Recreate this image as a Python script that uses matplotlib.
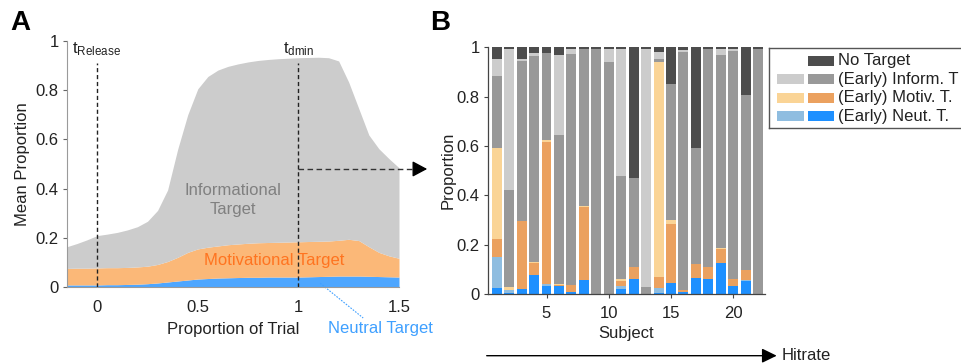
import matplotlib
matplotlib.use("Agg")
import matplotlib.pyplot as plt
from matplotlib.patches import Rectangle, FancyArrowPatch
import numpy as np

plt.rcParams['font.family'] = ['Liberation Sans', 'DejaVu Sans']
plt.rcParams['mathtext.fontset'] = 'custom'
plt.rcParams['mathtext.rm'] = 'Liberation Sans'
plt.rcParams['mathtext.default'] = 'regular'

# ---------------- Panel A: mean proportion over trial time ----------------
trial_pos = [-0.15, -0.10, -0.05, 0.00, 0.05, 0.10, 0.15, 0.20, 0.25, 0.30,
             0.35, 0.40, 0.45, 0.50, 0.55, 0.60, 0.65, 0.70, 0.75, 0.80,
             0.85, 0.90, 0.95, 1.00, 1.05, 1.10, 1.15, 1.20, 1.25, 1.30,
             1.35, 1.40, 1.45, 1.50]
# stacked upper edges (cumulative mean proportions)
cum_neutral = [0.010, 0.010, 0.010, 0.010, 0.011, 0.011, 0.012, 0.013, 0.015, 0.018,
               0.022, 0.026, 0.030, 0.034, 0.036, 0.038, 0.039, 0.040, 0.041, 0.041,
               0.042, 0.042, 0.042, 0.042, 0.043, 0.044, 0.045, 0.046, 0.046, 0.046,
               0.045, 0.044, 0.043, 0.042]
cum_motivational = [0.077, 0.078, 0.078, 0.079, 0.080, 0.080, 0.081, 0.083, 0.086, 0.093,
                    0.105, 0.122, 0.142, 0.156, 0.163, 0.168, 0.173, 0.176, 0.179, 0.181,
                    0.182, 0.183, 0.184, 0.185, 0.186, 0.187, 0.188, 0.191, 0.195, 0.190,
                    0.165, 0.142, 0.128, 0.118]
cum_informational = [0.165, 0.178, 0.193, 0.210, 0.216, 0.223, 0.233, 0.246, 0.268, 0.312,
                     0.395, 0.560, 0.700, 0.805, 0.855, 0.881, 0.896, 0.906, 0.914, 0.920,
                     0.924, 0.927, 0.929, 0.931, 0.932, 0.933, 0.931, 0.918, 0.832, 0.725,
                     0.618, 0.562, 0.522, 0.485]
t_release = 0.0
t_dmin = 1.0
dmin_level = 0.48

# ---------------- Panel B: per-subject proportions ----------------
subjects = list(range(1, 23))
neut = [0.026, 0.006, 0.019, 0.077, 0.034, 0.032, 0.008, 0.057, 0, 0, 0.022,
        0.060, 0, 0.006, 0.043, 0.010, 0.064, 0.061, 0.124, 0.031, 0.052, 0]
early_neut = [0.123, 0.012, 0, 0, 0.006, 0, 0, 0, 0, 0, 0.010,
              0, 0, 0.020, 0, 0, 0, 0, 0, 0, 0.005, 0]
motiv = [0.074, 0, 0.277, 0.048, 0.577, 0.006, 0.028, 0.297, 0, 0, 0.022,
         0.051, 0, 0.042, 0.239, 0.006, 0.057, 0.047, 0.058, 0.029, 0.040, 0]
early_motiv = [0.367, 0.012, 0, 0.006, 0.009, 0.004, 0, 0.003, 0, 0, 0.008,
               0, 0, 0.872, 0.018, 0, 0, 0, 0.005, 0, 0, 0]
inform = [0.294, 0.390, 0.650, 0.834, 0.352, 0.603, 0.936, 0.638, 0.995, 0.940, 0.416,
          0.361, 0.030, 0.014, 0.553, 0.963, 0.469, 0.887, 0.781, 0.925, 0.711, 0.995]
early_inform = [0.070, 0.575, 0.008, 0.013, 0, 0.325, 0.023, 0, 0, 0.055, 0.517,
                0, 0.965, 0.025, 0, 0.009, 0, 0, 0.027, 0.010, 0, 0]
no_target = [0.046, 0.005, 0.046, 0.022, 0.022, 0.030, 0.005, 0.005, 0.005, 0.005, 0.005,
             0.528, 0.005, 0.021, 0.147, 0.012, 0.410, 0.005, 0.005, 0.005, 0.192, 0.005]

legend_labels = ['No Target', '(Early) Inform. T', '(Early) Motiv. T.', '(Early) Neut. T.']

# colours
C_GREY_A, C_ORANGE_A, C_BLUE_A = '#cccccc', '#fbb878', '#4da6ff'
C_NEUT, C_ENEUT = '#1e90ff', '#8fbde0'
C_MOTIV, C_EMOTIV = '#eba15f', '#fad496'
C_INF, C_EINF = '#999999', '#cccccc'
C_NONE = '#4d4d4d'

W, H = 961, 364
fig = plt.figure(figsize=(W / 100, H / 100), dpi=100)

# ======== Panel A ========
axA = fig.add_axes([67 / W, 1 - 287.4 / H, 332 / W, 246.7 / H])
x = np.array(trial_pos)
axA.fill_between(x, 0, cum_neutral, color=C_BLUE_A, lw=0)
axA.fill_between(x, cum_neutral, cum_motivational, color=C_ORANGE_A, lw=0)
axA.fill_between(x, cum_motivational, cum_informational, color=C_GREY_A, lw=0)
axA.set_xlim(-0.15, 1.5)
axA.set_ylim(0, 1)

for s in ('top', 'right'):
    axA.spines[s].set_visible(False)
for s in ('left', 'bottom'):
    axA.spines[s].set_color('#9a9a9a')
    axA.spines[s].set_linewidth(0.8)

axA.set_yticks([0, 0.2, 0.4, 0.6, 0.8, 1.0])
axA.set_yticklabels(['0', '0.2', '0.4', '0.6', '0.8', '1'])
axA.set_xticks([0, 0.5, 1, 1.5])
axA.set_xticklabels(['0', '0.5', '1', '1.5'])
axA.tick_params(axis='y', direction='out', length=3, width=0.8, color='#666666',
                labelsize=12, pad=3, labelcolor='#222222')
axA.tick_params(axis='x', length=0, labelsize=12, pad=9, labelcolor='#222222')
axA.set_ylabel('Mean Proportion', fontsize=12, labelpad=4, color='#222222')
axA.set_xlabel('Proportion of Trial', fontsize=12, labelpad=5, color='#222222')

dash = (0, (3, 2))
axA.plot([t_release, t_release], [0, 0.91], color='#222222', lw=1, ls=dash)
axA.plot([t_dmin, t_dmin], [0, 0.91], color='#222222', lw=1, ls=dash)
axA.text(-0.125, 0.95, r'$\mathregular{t_{Release}}$', fontsize=12, ha='left',
         va='baseline', color='#222222')
axA.text(t_dmin, 0.95, r'$\mathregular{t_{dmin}}$', fontsize=12, ha='center',
         va='baseline', color='#222222')

# dashed arrow pointing from t_dmin towards panel B
axA.plot([t_dmin, 1.60], [dmin_level, dmin_level], color='#333333', lw=1,
         ls=(0, (4, 2.5)), clip_on=False)
axA.annotate('', xy=(1.64, dmin_level), xytext=(1.585, dmin_level),
             arrowprops=dict(arrowstyle='-|>,head_length=0.45,head_width=0.24',
                             mutation_scale=20, color='black', lw=1,
                             shrinkA=0, shrinkB=0),
             annotation_clip=False)

axA.text(0.676, 0.355, 'Informational\nTarget', fontsize=12, ha='center',
         va='center', color='#808080', linespacing=1.3)
axA.text(0.88, 0.108, 'Motivational Target', fontsize=12, ha='center',
         va='center', color='#ff7420')
axA.plot([1.108, 1.322], [0.017, -0.124], color='#3fa0ff', lw=0.8,
         ls=(0, (1.5, 1.2)), clip_on=False)
axA.text(1.148, -0.165, 'Neutral Target', fontsize=12, ha='left',
         va='center', color='#3fa0ff', clip_on=False)

# ======== Panel B ========
axB = fig.add_axes([488 / W, 1 - 294 / H, 277 / W, 246.7 / H])
layers = [(neut, C_NEUT), (early_neut, C_ENEUT), (motiv, C_MOTIV),
          (early_motiv, C_EMOTIV), (inform, C_INF), (early_inform, C_EINF),
          (no_target, C_NONE)]
bottom = np.zeros(len(subjects))
for vals, col in layers:
    axB.bar(subjects, vals, width=0.8, bottom=bottom, color=col, lw=0)
    bottom += np.array(vals)

axB.set_xlim(0.3, 22.55)
axB.set_ylim(0, 1.0)
for s in ('top', 'right'):
    axB.spines[s].set_visible(False)
for s in ('left', 'bottom'):
    axB.spines[s].set_color('#444444')
    axB.spines[s].set_linewidth(0.9)
axB.set_yticks([0, 0.2, 0.4, 0.6, 0.8, 1.0])
axB.set_yticklabels(['0', '0.2', '0.4', '0.6', '0.8', '1'])
axB.set_xticks([5, 10, 15, 20])
axB.tick_params(axis='both', direction='out', length=3, width=0.8, color='#444444',
                labelsize=12, labelcolor='#222222')
axB.tick_params(axis='x', pad=6)
axB.tick_params(axis='y', pad=3)
axB.set_ylabel('Proportion', fontsize=12, labelpad=1, color='#222222')
axB.set_xlabel('Subject', fontsize=12, labelpad=3, color='#222222')

# legend box with paired swatches (early / regular)
axL = fig.add_axes([769 / W, 1 - 128 / H, 215 / W, 80 / H])
axL.set_xlim(0, 215)
axL.set_ylim(80, 0)
axL.set_xticks([])
axL.set_yticks([])
for s in axL.spines.values():
    s.set_color('#555555')
    s.set_linewidth(1)
legend_swatches = [(None, C_NONE), (C_EINF, C_INF), (C_EMOTIV, C_MOTIV), (C_ENEUT, C_NEUT)]
row_y = [12.7, 31.3, 49.5, 68.0]
for (c1, c2), lab, yy in zip(legend_swatches, legend_labels, row_y):
    if c1 is not None:
        axL.add_patch(Rectangle((8, yy - 5), 27, 10, color=c1, lw=0))
    axL.add_patch(Rectangle((39, yy - 5), 26, 10, color=c2, lw=0))
    axL.text(69, yy, lab, fontsize=12, va='center', ha='left', color='#222222')

# hit-rate arrow under panel B
ya = (H - 355.7) / H
fig.add_artist(FancyArrowPatch((486.7 / W, ya), (776.7 / W, ya),
                               transform=fig.transFigure,
                               arrowstyle='-|>,head_length=0.45,head_width=0.22',
                               mutation_scale=20, color='black', lw=1,
                               shrinkA=0, shrinkB=0))
fig.text(781.7 / W, ya, 'Hitrate', fontsize=12, va='center', ha='left', color='#222222')

# panel letters
fig.text(10 / W, 1 - 10 / H, 'A', fontsize=20, fontweight='bold', va='top', ha='left')
fig.text(430 / W, 1 - 10 / H, 'B', fontsize=20, fontweight='bold', va='top', ha='left')

fig.savefig('out.png', dpi=100)
